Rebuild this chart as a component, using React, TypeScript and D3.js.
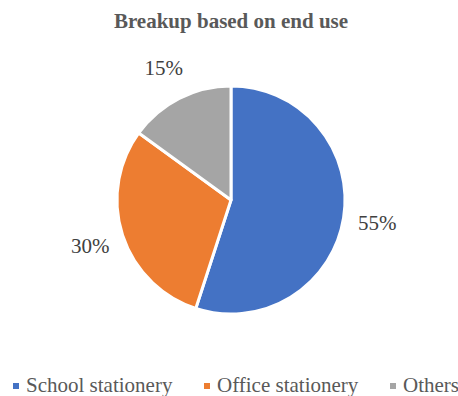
import React from "react";
import * as d3 from "d3";

const categories = ["School stationery", "Office stationery", "Others"];
const values = [55, 30, 15];
const colors = ["#4472C4", "#ED7D31", "#A5A5A5"];
const title = "Breakup based on end use";

export default function App() {
  const width = 458;
  const height = 396;
  const cx = 231;
  const cy = 200;
  const r = 114;
  const labelR = 148;
  const pie = d3.pie<number>().sort(null).value((d) => d);
  const arcs = pie(values);
  const arc = d3.arc<d3.PieArcDatum<number>>().innerRadius(0).outerRadius(r);
  const labelArc = d3.arc<d3.PieArcDatum<number>>().innerRadius(labelR).outerRadius(labelR);
  const font = "Liberation Serif";
  const legendX = [13, 204, 390];
  return (
    <div style={{ position: "absolute", left: 0, top: 0, width, height, background: "#fff" }}>
      <svg width={width} height={height}>
        <text x={231} y={28} textAnchor="middle" fontSize={21} fontWeight="bold" fill="#595959" style={{ fontFamily: font }}>
          {title}
        </text>
        <g transform={`translate(${cx},${cy})`}>
          {arcs.map((a, i) => (
            <path key={i} d={arc(a) || ""} fill={colors[i]} stroke="#fff" strokeWidth={3} strokeLinejoin="round" />
          ))}
          {arcs.map((a, i) => {
            const [x, y] = labelArc.centroid(a);
            return (
              <text key={"l" + i} x={x} y={y + 7} textAnchor="middle" fontSize={21} fill="#404040" style={{ fontFamily: font }}>
                {values[i]}%
              </text>
            );
          })}
        </g>
        {categories.map((c, i) => (
          <g key={c}>
            <rect x={legendX[i]} y={383} width={6} height={6} fill={colors[i]} />
            <text x={legendX[i] + 13} y={392} fontSize={21} fill="#595959" style={{ fontFamily: font }}>
              {c}
            </text>
          </g>
        ))}
      </svg>
    </div>
  );
}
